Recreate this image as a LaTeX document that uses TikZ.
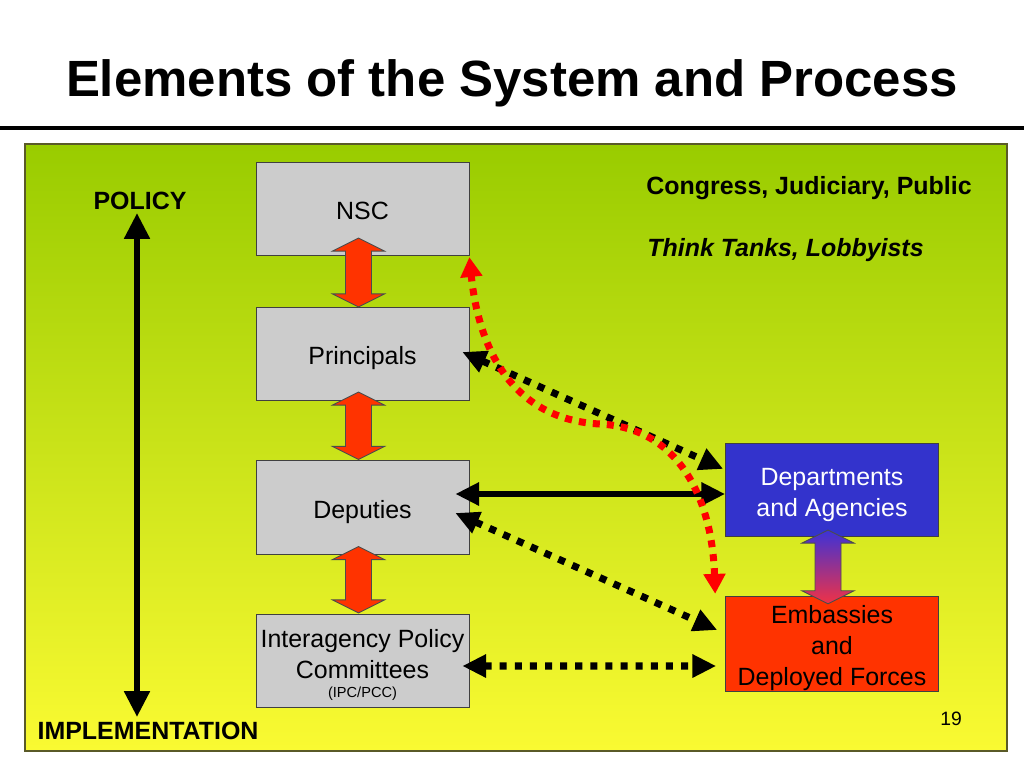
\documentclass[tikz,border=0pt]{standalone}
\usepackage{fontspec}
\setmainfont{Liberation Sans}
\usetikzlibrary{calc,arrows.meta}

\definecolor{boxgray}{RGB}{204,204,204}
\definecolor{deptblue}{RGB}{51,51,204}
\definecolor{embred}{RGB}{255,51,0}
\definecolor{paneltop}{RGB}{153,204,0}
\definecolor{panelbot}{RGB}{250,250,50}
\definecolor{panelrim}{RGB}{90,90,40}
\definecolor{dotred}{RGB}{255,0,0}
\definecolor{purpletop}{RGB}{60,50,215}
\definecolor{purplemid}{RGB}{175,50,175}
\definecolor{purplebot}{RGB}{240,50,70}

\tikzset{
  unit/.style={draw=black!75,fill=boxgray,minimum width=4.26cm,minimum height=1.87cm,
    inner sep=0pt,align=center,font=\fontsize{14.2}{17.6}\selectfont},
  oneline/.style={text height=12pt,text depth=0pt},
  boldtext/.style={anchor=base,inner sep=0pt,font=\fontsize{14.2}{17.6}\selectfont\bfseries},
  fatred/.style={draw=black!70,line width=0.5pt,fill=embred},
  fatpurple/.style={draw=black!70,line width=0.5pt,top color=purpletop,
    middle color=purplemid,bottom color=purplebot},
  dotlink/.style={black,line width=4pt,dash pattern=on 4pt off 4.6pt,
    >={Triangle[length=13.5pt,width=12.5pt]},<->},
  solidlink/.style={black,line width=3.4pt,>={Triangle[length=13.5pt,width=12.5pt]},<->},
  redlink/.style={dotred,line width=4pt,dash pattern=on 4pt off 4pt,
    >={Triangle[length=11.3pt,width=12pt]},<->},
  bigarrow/.style={black,line width=3.4pt,>={Triangle[length=14.7pt,width=14pt]},<->}
}

% fat two-headed arrow between two tips (top tip, bottom tip)
\newcommand{\fatlink}[3][fatred]{%
  \path (#2) coordinate (fa) (#3) coordinate (fb);
  \draw[#1] (fa) -- ($(fa)+(26,13)$) -- ($(fa)+(13,13)$) -- ($(fb)+(13,-13)$)
    -- ($(fb)+(26,-13)$) -- (fb) -- ($(fb)+(-26,-13)$) -- ($(fb)+(-13,-13)$)
    -- ($(fa)+(-13,13)$) -- ($(fa)+(-26,13)$) -- cycle;}

\begin{document}
\begin{tikzpicture}[x=0.02cm,y=-0.02cm]
\useasboundingbox (0,0) rectangle (1024,768);

% title and rule
\node[anchor=base,inner sep=0pt,font=\fontsize{29}{35}\selectfont\bfseries] (ttl) at (512,96)
  {Elements of the System and Process};
\draw[line width=2.8pt] (0,128) -- (1024,128);

% panel
\shade[top color=paneltop,bottom color=panelbot] (25,144) rectangle (1007,751);
\draw[panelrim,line width=0.8pt] (25,144) rectangle (1007,751);

% side labels and notes
\node[boldtext] (pol) at (140,209) {POLICY};
\node[boldtext] (impl) at (148,739) {IMPLEMENTATION};
\node[boldtext] (cong) at (809,194) {Congress, Judiciary, Public};
\node[boldtext,font=\fontsize{14.2}{17.6}\selectfont\bfseries\itshape] (think) at (785.5,256)
  {Think Tanks, Lobbyists};
\node[anchor=base,inner sep=0pt,font=\fontsize{11}{13}\selectfont] (pg) at (951,725) {19};

\coordinate (ptop) at (137,213);
\coordinate (pbot) at (137,717);
\draw[bigarrow] (ptop) -- (pbot);

% boxes
\node[unit,oneline] (nsc) at (362.5,209) {NSC};
\node[unit,oneline] (prin) at (362.5,354) {Principals};
\node[unit,oneline] (dep) at (362.5,507.5) {Deputies};
\node[unit,text height=43.5pt] (ipc) at (362.5,661)
  {Interagency Policy\\Committees\\[-6.5pt]{\fontsize{8.3}{10}\selectfont (IPC/PCC)}};
\node[unit,fill=deptblue,text=white,text height=33.4pt] (dept) at (832,490)
  {Departments\\and Agencies};
\node[unit,fill=embred,text height=51pt] (emb) at (832,643.5)
  {Embassies\\and\\Deployed Forces};

% fat arrows
\fatlink{$(nsc.south)+(-4,-18)$}{$(prin.north)+(-4,0)$}
\fatlink{$(prin.south)+(-4,-9)$}{$(dep.north)+(-4,-1)$}
\fatlink{$(dep.south)+(-4,-8)$}{$(ipc.north)+(-4,-1)$}
\fatlink[fatpurple]{$(dept.south)+(-4,-7)$}{$(emb.north)+(-4,8)$}

% links
\draw[dotlink] ($(prin.east)+(-7,-2)$) -- ($(dept.north west)+(-2,26)$);
\draw[solidlink] ($(dep.east)+(-14,-13.5)$) -- ($(dept.west)+(0,4)$);
\draw[dotlink] ($(dep.east)+(-14,5.5)$) -- ($(emb.west)+(-8,-13.5)$);
\draw[dotlink] ($(ipc.east)+(-7,5)$) -- ($(emb.west)+(-9,22.5)$);

\draw[redlink] ($(emb.north west)+(-10,-2)$) .. controls (712,500) and (680,428) .. (600,424)
  .. controls (520,420) and (480,360) .. ($(nsc.south east)+(0,1)$);
\end{tikzpicture}
\end{document}
